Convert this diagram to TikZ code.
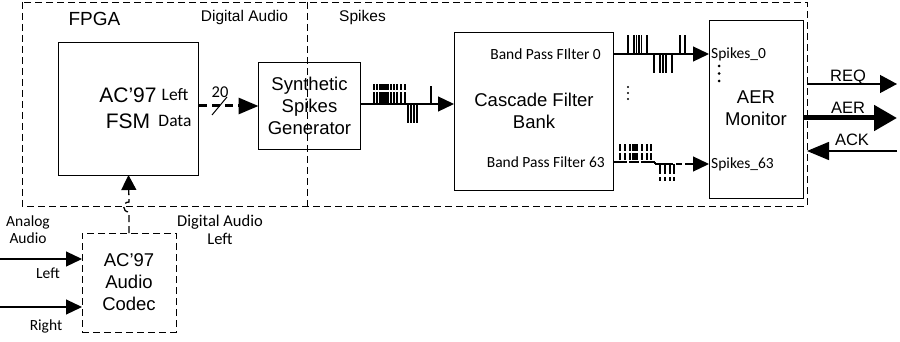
\documentclass[tikz,border=0pt]{standalone}
\usepackage{fontspec}
\newfontfamily\arialf{Liberation Sans}
\newfontfamily\calf{Carlito}
\usetikzlibrary{positioning,arrows.meta,calc}

\begin{document}
\begin{tikzpicture}[x=1pt, y=-1pt, >=Triangle,
  box/.style={draw, line width=0.8pt, inner sep=0pt, outer sep=0pt},
  outline/.style={line width=0.8pt, dash pattern=on 7pt off 4pt},
  big/.style={font=\arialf\fontsize{18.5}{22}\selectfont, align=center, inner sep=0pt},
  mid/.style={font=\arialf\fontsize{15.5}{18}\selectfont, inner sep=0pt},
  small/.style={font=\calf\fontsize{15.5}{17}\selectfont, align=center, inner sep=0pt},
  sig/.style={line width=1.2pt, -{Triangle[length=16pt,width=15pt]}},
  spk/.style={line width=1.1pt},
  dot/.style={fill, circle, inner sep=0pt, minimum size=2.6pt}]
  \useasboundingbox (0,0) rectangle (900,342);

  % FPGA area and the two parts of it
  \draw[outline] (22,2) rectangle (807,206);
  \draw[outline] (307,2) -- (307,206);
  \node[font=\arialf\fontsize{19}{22}\selectfont, inner sep=0pt] (fpga) at (94.5,19) {FPGA};
  \node[mid] (dalbl) at (244.5,17) {Digital Audio};
  \node[mid] (splbl) at (362.5,17) {Spikes};

  % blocks
  \node[box, minimum width=140pt, minimum height=133pt] (fsm) at (128.5,108.5) {};
  \node[big, font=\arialf\fontsize{21}{26}\selectfont] (fsmtxt) at (128,108) {AC’97\\FSM};
  \node[small, font=\calf\fontsize{17.5}{26}\selectfont] (ldata) at (175,108) {Left\\Data};
  \node[box, big, minimum width=102pt, minimum height=87pt] (synth) at (309.5,105.5)
    {Synthetic\\Spikes\\Generator};
  \node[box, minimum width=159pt, minimum height=158pt] (cfb) at (533.5,111) {};
  \node[big] (cfbtxt) at (534,111) {Cascade Filter\\Bank};
  \node[small, anchor=east] (bpf0) at (601,54) {Band Pass FIlter 0};
  \node[small, anchor=east] (bpf63) at (605,162) {Band Pass Filter 63};
  \node[box, minimum width=94pt, minimum height=178pt] (aer) at (756,109) {};
  \node[big] (aertxt) at (756,108) {AER\\Monitor};
  \node[small, anchor=west] (sp0) at (711,54) {Spikes\_0};
  \node[small, anchor=west] (sp63) at (711,164) {Spikes\_63};
  \foreach \y in {66,73.5,81}
    \node[dot, minimum size=3pt] at (719,\y) {};
  \foreach \y in {87,93,99}
    \node[dot, minimum size=2.2pt] at (628,\y) {};
  \node[box, big, outline, minimum width=94pt, minimum height=99pt] (codec) at (129,282.5)
    {AC’97\\Audio\\Codec};

  % codec inputs
  \coordinate (inL) at (0,259);
  \coordinate (inR) at (0,307);
  \draw[sig] (inL) -- (inL -| codec.west);
  \draw[sig] (inR) -- (inR -| codec.west);
  \node[small] (analog) at (28,230) {Analog\\Audio};
  \node[small] (leftlbl) at (48,273) {Left};
  \node[small] (rightlbl) at (46,326) {Right};

  % codec to FSM, hopping over the FPGA border
  \draw[line width=1.3pt, dash pattern=on 7pt off 4pt, -{Triangle[length=15pt,width=15pt]}]
    (codec.north) -- ++(0,-21) .. controls +(-7,0) and +(-7,0) .. ++(0,-10) -- (fsm.south);
  \node[small, font=\calf\fontsize{16.5}{18.5}\selectfont] (dalft) at (220,230) {Digital Audio\\Left};

  % FSM to spike generator, 20 bit bus
  \coordinate (bus0) at (199,106);
  \draw[line width=3pt, dash pattern=on 8pt off 5pt, -{Triangle[length=20pt,width=16pt]}]
    (bus0) -- (bus0 -| synth.west);
  \draw[line width=1pt] (212,115) -- (227,97);
  \node[small, font=\calf\fontsize{16.5}{18}\selectfont] (width) at (220,92) {20};

  % spikes into the filter bank
  \coordinate (s1) at (361,104);
  \draw[sig] (s1) -- (s1 -| cfb.west);
  \foreach \t in {374,377,380,382,384,386,388,391,394,397,401,405}
    \draw[spk, dash pattern=on 12pt off 2pt] (\t,104) -- (\t,84);
  \foreach \t in {408,411,414,417}
    \draw[spk] (\t,104) -- (\t,123);
  \draw[spk] (431,104) -- (431,86);

  % band pass 0
  \coordinate (b0) at (613,54);
  \draw[sig] (b0) -- (b0 -| aer.west);
  \foreach \t in {628,634,636.5,639,641.5,647,680,685}
    \draw[spk] (\t,54) -- (\t,35);
  \foreach \t in {654,660,663,666,672}
    \draw[spk] (\t,54) -- (\t,73);

  % band pass 63
  \coordinate (b63) at (613,162);
  \draw[spk, dash pattern=on 14pt off 2pt on 10pt off 2pt] (b63) -- (655,162);
  \draw[spk] (655,162) -- (655,164);
  \draw[sig, dash pattern=on 18pt off 3pt on 6pt off 3pt] (655,164) -- (655,164 -| aer.west);
  \foreach \t in {620,625,630,633,635,637,642,647,651}
    \draw[spk, dash pattern=on 7pt off 2pt] (\t,160) -- (\t,143);
  \foreach \t in {660,665,670,674}
    \draw[spk, dash pattern=on 10pt off 3pt] (\t,164) -- (\t,181);

  % AER bus side
  \coordinate (req) at (897,84);
  \coordinate (bus) at (897,118);
  \coordinate (ack) at (897,151);
  \draw[line width=1.3pt, -{Triangle[length=17pt,width=18pt]}] (aer.east |- req) ++(4,0) -- (req);
  \draw[line width=5pt, -{Triangle[length=23pt,width=25pt]}] (aer.east |- bus) -- (bus);
  \draw[line width=1.5pt, -{Triangle[length=22pt,width=18pt]}] (ack) -- ($(aer.east |- ack)+(4,0)$);
  \node[mid, font=\arialf\fontsize{16.5}{18}\selectfont] (reqlbl) at (848,77) {REQ};
  \node[mid, font=\arialf\fontsize{16.5}{18}\selectfont] (aerlbl) at (848,108) {AER};
  \node[mid, font=\arialf\fontsize{16.5}{18}\selectfont] (acklbl) at (852,140) {ACK};
\end{tikzpicture}
\end{document}
